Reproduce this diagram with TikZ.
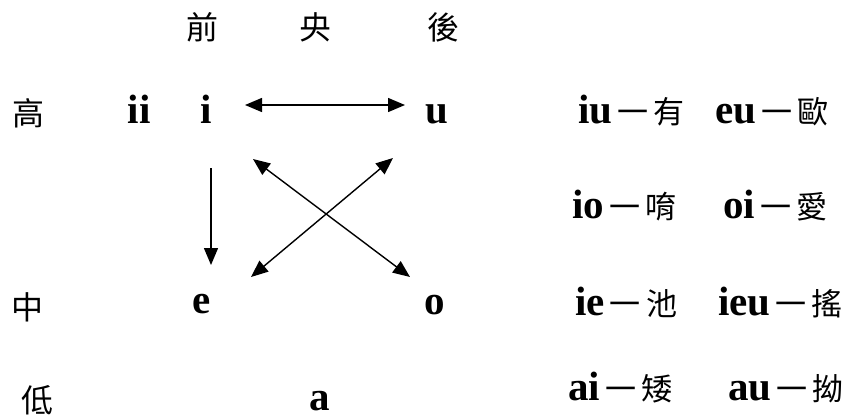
\documentclass[tikz,border=0pt]{standalone}
\usepackage{fontspec}
\setmainfont{Liberation Serif}
\newfontfamily\cjk{Noto Sans CJK TC}
\usetikzlibrary{arrows.meta,positioning}
\newcommand\vpair[2]{{\rmfamily\bfseries\fontsize{41bp}{41bp}\selectfont #1}\,一\,#2}

\begin{document}
\begin{tikzpicture}[x=1bp,y=-1bp,
	vow/.style={font=\fontsize{41bp}{41bp}\selectfont\bfseries,inner sep=0pt,anchor=base},
	lab/.style={font=\fontsize{32bp}{32bp}\selectfont\cjk,inner sep=0pt,anchor=base},
	ent/.style={font=\fontsize{31bp}{31bp}\selectfont\cjk,inner sep=0pt,anchor=base west},
	arr/.style={-{Triangle[length=17bp,width=14bp]},line width=1.4bp},
	darr/.style={{Triangle[length=17bp,width=14bp]}-{Triangle[length=17bp,width=14bp]},line width=1.4bp}]
	\useasboundingbox (0,0) rectangle (851,418);
	% column and row labels
	\node[lab] (front) at (202,39) {前};
	\node[lab] (central) at (315,39) {央};
	\node[lab] (back) at (443,39) {後};
	\node[lab] (high) at (28,125) {高};
	\node[lab] (mid) at (27,319) {中};
	\node[lab] (low) at (37,412) {低};
	% vowels
	\node[vow] (v_ii) at (139,123) {ii};
	\node[vow] (v_i) at (206,123) {i};
	\node[vow] (v_u) at (437,123) {u};
	\node[vow] (v_e) at (202,313) {e};
	\node[vow] (v_o) at (435,314) {o};
	\node[vow] (v_a) at (320,410) {a};
	% diphthongs
	\node[ent] (d_iu) at (578,123) {\vpair{iu}{有}};
	\node[ent] (d_eu) at (715,123) {\vpair{eu}{歐}};
	\node[ent] (d_io) at (572,218) {\vpair{io}{唷}};
	\node[ent] (d_oi) at (723,218) {\vpair{oi}{愛}};
	\node[ent] (d_ie) at (575,315) {\vpair{ie}{池}};
	\node[ent] (d_ieu) at (718,315) {\vpair{ieu}{搖}};
	\node[ent] (d_ai) at (568,400) {\vpair{ai}{矮}};
	\node[ent] (d_au) at (728,400) {\vpair{au}{拗}};
	% arrow ends
	\coordinate (h_l) at (245,105);
	\coordinate (h_r) at (405,105);
	\coordinate (dn_t) at (211,168);
	\coordinate (dn_b) at (211,265);
	\coordinate (x1_a) at (253,159);
	\coordinate (x1_b) at (410,277);
	\coordinate (x2_a) at (393,158);
	\coordinate (x2_b) at (251,277);
	\draw[darr] (h_l) -- (h_r);
	\draw[arr] (dn_t) -- (dn_b);
	\draw[darr] (x1_a) -- (x1_b);
	\draw[darr] (x2_a) -- (x2_b);
\end{tikzpicture}
\end{document}
